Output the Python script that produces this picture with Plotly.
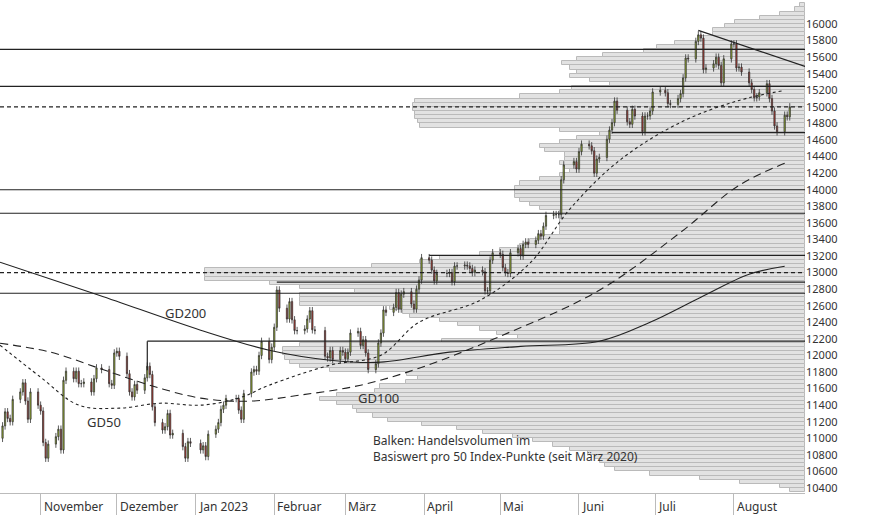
import numpy as np
import pandas as pd
import plotly.graph_objects as go

# daily closes, grouped per trading week
weeks = [
    [11150, 11320, 11240, 11200, 11470],
    [11560, 11670, 11450, 11230, 11560],
    [11400, 11330, 10950, 10760, 10930],
    [11020, 11110, 10860, 11700, 11810],
    [11720, 11810, 11660, 11660, 11680],
    [11560, 11720, 11850, 11830],
    [11660, 11640, 12030, 12050, 11990],
    [11780, 11560, 11500, 11650, 11580],
    [11730, 11870, 11770, 11380, 11190],
    [11100, 11140, 11300, 11040, 11060],
    [10900, 10760, 10960, 10940],
    [10860, 10910, 10780, 11050],
    [11110, 11190, 11350, 11400, 11480],
    [11480, 11340, 11230, 11540],
    [11800, 11830, 11810, 12000, 12170],
    [11950, 12100, 12340, 12790, 12570],
    [12440, 12650, 12430, 12300, 12300],
    [12320, 12440, 12540, 12310, 12300],
    [11990, 11970, 12060, 11950],
    [12060, 12040, 11960, 12040, 12270],
    [12290, 12120, 12190, 12030, 11830],
    [11900, 12150, 12270, 12550, 12520],
    [12580, 12760, 12560, 12740, 12770],
    [12620, 12560, 12800, 12910, 13180],
    [13150, 13030, 12900, 12990],
    [12990, 13000, 12890, 13080, 13080],
    [13090, 13080, 13050, 13000, 13030],
    [13010, 12780, 12780, 13150, 13240],
    [13220, 13060, 13000, 12990, 13240],
    [13290, 13200, 13340, 13370, 13340],
    [13390, 13470, 13440, 13560, 13690],
    [13700, 13700, 13700, 14120, 14300],
    [14340, 14250, 14460, 14550],
    [14530, 14470, 14200, 14370, 14390],
    [14610, 14720, 14810, 15070, 14960],
    [14820, 14790, 14970, 14890],
    [14700, 14890, 14890, 14950, 15180],
    [15200, 15170, 15040, 15030],
    [15100, 15160, 15350, 15590, 15580],
    [15790, 15870, 15830, 15450, 15470],
    [15520, 15600, 15500, 15290, 15580],
    [15760, 15760, 15470, 15480, 15420],
    [15290, 15210, 15110, 15120, 15170],
    [15280, 15100, 14950, 14770, 14700],
    [14900, 14880, 15000],
]
first_open = 11000
wick = 45

holidays = ["2022-11-24", "2022-12-26", "2023-01-02", "2023-01-16", "2023-02-20",
            "2023-04-07", "2023-05-29", "2023-06-19", "2023-07-04"]

# volume per 50-point bin, starting at 10350
bin_start = 10350
volume = [15, 25, 65, 105, 155, 190, 200, 205, 210, 217, 235, 252,
          272, 292, 322, 348, 383, 417, 432, 448, 452, 468, 485, 468,
          430, 425, 399, 387, 398, 475, 505, 515, 520, 522, 522, 505,
          363, 287, 308, 325, 347, 365, 395, 402, 415, 505, 505, 505,
          450, 505, 535, 600, 600, 600, 433, 385, 365, 325, 305, 285,
          275, 265, 245, 245, 245, 245, 245, 245, 265, 275, 285, 290,
          290, 290, 285, 265, 245, 235, 240, 245, 240, 240, 260, 265,
          245, 228, 205, 245, 385, 387, 390, 390, 392, 392, 390, 285,
          245, 233, 195, 215, 235, 228, 235, 243, 228, 202, 161, 148,
          130, 107, 92, 92, 80, 70, 45, 25, 10, 5]

gd200_d = ["2022-10-16", "2022-11-24", "2023-01-03", "2023-01-30", "2023-02-23", "2023-03-15",
           "2023-04-11", "2023-05-09", "2023-06-09", "2023-06-29", "2023-07-19", "2023-08-07", "2023-08-21"]
gd200_v = [13125, 12727, 12305, 12063, 11943, 11919, 12040, 12110, 12172, 12401, 12703, 12980, 13077]
gd100_d = ["2022-10-16", "2022-11-05", "2022-11-24", "2022-12-14", "2023-01-03", "2023-01-22", "2023-02-11",
           "2023-03-07", "2023-03-30", "2023-05-01", "2023-06-09", "2023-07-11", "2023-08-03", "2023-08-21"]
gd100_v = [12148, 12039, 11846, 11641, 11485, 11448, 11521, 11641, 11846, 12232, 12787, 13486, 14053, 14319]
gd50_d = ["2022-10-16", "2022-11-01", "2022-11-16", "2022-12-02", "2022-12-18", "2023-01-03", "2023-01-18",
          "2023-01-30", "2023-02-23", "2023-03-15", "2023-03-30", "2023-04-23", "2023-05-13", "2023-05-28",
          "2023-06-17", "2023-07-11", "2023-08-03", "2023-08-21"]
gd50_v = [12124, 11738, 11400, 11364, 11424, 11400, 11485, 11641, 11883, 12003, 12401, 12666, 13125,
          13752, 14355, 14813, 15078, 15199]

# (start, end, level, dash)
levels = [
    ("2022-10-16", "2023-08-29", 15693, "solid"),
    ("2022-10-16", "2023-08-29", 15247, "solid"),
    ("2022-10-16", "2023-08-29", 15000, "4px,3px"),
    ("2023-06-14", "2023-08-29", 14690, "solid"),
    ("2022-10-16", "2023-08-29", 14000, "solid"),
    ("2022-10-16", "2023-08-29", 13716, "solid"),
    ("2023-04-03", "2023-08-29", 13209, "solid"),
    ("2022-10-16", "2023-08-29", 13000, "4px,3px"),
    ("2023-02-02", "2023-08-29", 12884, "solid"),
    ("2022-10-16", "2023-08-29", 12751, "solid"),
    ("2022-12-13", "2023-08-29", 12172, "solid"),
]
trend_d = ["2023-07-18", "2023-08-29"]
trend_v = [15923, 15488]

month_ticks = ["2022-11-01", "2022-12-01", "2023-01-01", "2023-02-01", "2023-03-01", "2023-04-01",
               "2023-05-01", "2023-06-01", "2023-07-01", "2023-08-01"]
month_labels = ["November", "Dezember", "Jan 2023", "Februar", "März", "April", "Mai", "Juni", "Juli", "August"]
price_ticks = list(range(10400, 16201, 200))

close = [c for w in weeks for c in w]
dates = pd.bdate_range("2022-10-17", "2023-08-23", freq="C", holidays=holidays)
assert len(dates) == len(close), (len(dates), len(close))
opens = [first_open] + close[:-1]
high = [max(o, c) + wick for o, c in zip(opens, close)]
low = [min(o, c) - wick for o, c in zip(opens, close)]
bins = bin_start + 25 + 50 * np.arange(len(volume))

fig = go.Figure()
fig.add_trace(go.Bar(x=volume, y=bins, orientation="h", width=50, xaxis="x", yaxis="y",
                     marker=dict(color="#e2e2e2", line=dict(color="#bababa", width=1)),
                     hoverinfo="skip"))
for d, v, dash in [(gd200_d, gd200_v, "solid"), (gd100_d, gd100_v, "8px,5px"), (gd50_d, gd50_v, "3px,3px")]:
    fig.add_trace(go.Scatter(x=d, y=v, xaxis="x2", yaxis="y", mode="lines", line_shape="spline",
                             line=dict(color="#222", width=1.1, dash=dash)))
for s, e, lv, dash in levels:
    fig.add_trace(go.Scatter(x=[s, e], y=[lv, lv], xaxis="x2", yaxis="y", mode="lines",
                             line=dict(color="#222", width=1.2, dash=dash)))
fig.add_trace(go.Scatter(x=["2022-12-13", "2022-12-13"], y=[12172, 11820], xaxis="x2", yaxis="y",
                         mode="lines", line=dict(color="#222", width=1.2)))
fig.add_trace(go.Scatter(x=trend_d, y=trend_v, xaxis="x2", yaxis="y", mode="lines",
                         line=dict(color="#222", width=1.2)))
fig.add_trace(go.Candlestick(x=dates, open=opens, high=high, low=low, close=close, xaxis="x2", yaxis="y",
                             increasing=dict(fillcolor="#a8c52a", line=dict(color="#333", width=0.8)),
                             decreasing=dict(fillcolor="#c8372b", line=dict(color="#333", width=0.8)),
                             whiskerwidth=0))

for txt, d, v in [("GD200", "2022-12-28", 12510), ("GD100", "2023-03-14", 11485), ("GD50", "2022-11-26", 11195)]:
    fig.add_annotation(x=d, y=v, xref="x2", yref="y", text=txt, showarrow=False,
                       font=dict(size=13, color="#333"))
fig.add_annotation(x="2023-03-11", y=10880, xref="x2", yref="y", xanchor="left", align="left",
                   text="Balken: Handelsvolumen im<br>Basiswert pro 50 Index-Punkte (seit März 2020)",
                   showarrow=False, font=dict(size=12, color="#333"))
for d, lab in zip(month_ticks, month_labels):
    fig.add_annotation(x=d, y=0, xref="x2", yref="paper", text=lab, showarrow=False,
                       xanchor="left", yanchor="top", xshift=1, yshift=-3,
                       font=dict(size=12, color="#333"))

fig.update_layout(
    width=874, height=515, margin=dict(l=0, r=69, t=0, b=22, autoexpand=False),
    paper_bgcolor="white", plot_bgcolor="white", showlegend=False, bargap=0,
    font=dict(family="Noto Sans", size=12, color="#333"),
    xaxis=dict(range=[805, 0], visible=False, fixedrange=True, automargin=False),
    xaxis2=dict(overlaying="x", side="bottom", anchor="y", type="date", automargin=False,
                range=["2022-10-16", "2023-08-29"], rangeslider=dict(visible=False),
                tickvals=month_ticks, showticklabels=False,
                ticks="outside", ticklen=22, tickcolor="#bbb", showgrid=False,
                showline=True, linecolor="#bbb"),
    yaxis=dict(side="right", range=[10340, 16290], tickvals=price_ticks,
               ticktext=[str(p) for p in price_ticks], automargin=False,
               showgrid=False, ticks="", tickfont=dict(size=11, color="#333")),
)
fig.write_html("out.html", config={"displayModeBar": False},
               post_script="document.body.style.margin='0';")
